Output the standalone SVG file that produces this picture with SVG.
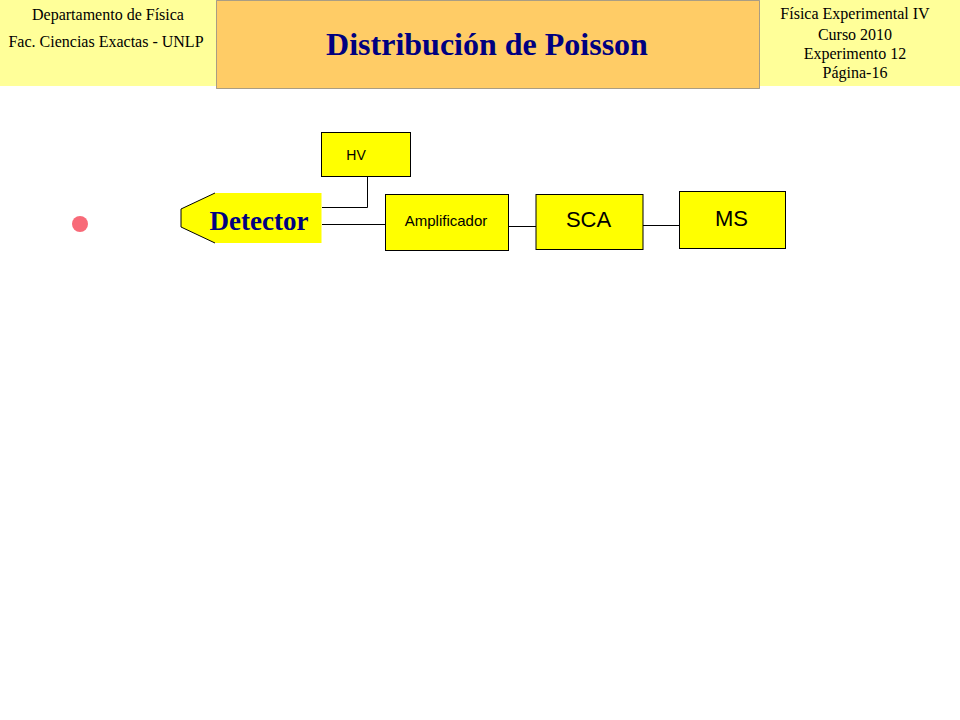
<svg xmlns="http://www.w3.org/2000/svg" width="960" height="720" viewBox="0 0 960 720">
<style>
.hdr{font-family:"Liberation Serif","Times New Roman",serif;font-size:16px;fill:#000;text-anchor:middle}
.box{fill:#FFFF00;stroke:#000;stroke-width:1}
.lbl{font-family:"Liberation Sans",Arial,sans-serif;fill:#000;text-anchor:middle}
.wire{fill:none;stroke:#000;stroke-width:1}
</style>
<rect width="960" height="720" fill="#fff"/>
<g id="header">
<rect x="0" y="0" width="216" height="86" fill="#FFFF99"/>
<rect x="760" y="0" width="200" height="86" fill="#FFFF99"/>
<rect x="216.5" y="0.5" width="543" height="88" fill="#FFCC66" stroke="#555" stroke-width="1" stroke-dasharray="1,1"/>
<text class="hdr" x="108" y="20">Departamento de Física</text>
<text class="hdr" x="106" y="47">Fac. Ciencias Exactas - UNLP</text>
<text class="hdr" x="855" y="19">Física Experimental IV</text>
<text class="hdr" x="855" y="40">Curso 2010</text>
<text class="hdr" x="855" y="59">Experimento 12</text>
<text class="hdr" x="855" y="78">Página-16</text>
<text x="487" y="55" font-family="'Liberation Serif','Times New Roman',serif" font-size="32" font-weight="bold" fill="#000080" text-anchor="middle">Distribución de Poisson</text>
</g>
<circle id="bullet" cx="80" cy="224" r="8" fill="#F86A78"/>
<g id="connectors">
<polyline class="wire" points="367.5,176 367.5,207.5 322,207.5"/>
<line class="wire" x1="322" y1="224.5" x2="385" y2="224.5"/>
<line class="wire" x1="508" y1="226.5" x2="536" y2="226.5"/>
<line class="wire" x1="643" y1="225.5" x2="679" y2="225.5"/>
</g>
<g id="detector">
<polygon points="215,193 321.5,193 321.5,243 215,243 181,227 181,209" fill="#FFFF00"/>
<polyline points="215,193 181,209 181,227 215,243" fill="none" stroke="#000" stroke-width="1"/>
<text x="259" y="230" font-family="'Liberation Serif','Times New Roman',serif" font-size="27" font-weight="bold" fill="#000080" text-anchor="middle">Detector</text>
</g>
<g id="hv">
<rect class="box" x="321.5" y="132.5" width="89" height="44"/>
<text class="lbl" x="356" y="160" font-size="14">HV</text>
</g>
<g id="amplificador">
<rect class="box" x="385.5" y="194.5" width="123" height="56"/>
<text class="lbl" x="446" y="226" font-size="15">Amplificador</text>
</g>
<g id="sca">
<rect class="box" x="536" y="194.5" width="107" height="55"/>
<text class="lbl" x="588.5" y="227" font-size="22">SCA</text>
</g>
<g id="ms">
<rect class="box" x="679.5" y="191.5" width="106" height="57"/>
<text class="lbl" x="731.5" y="226" font-size="22">MS</text>
</g>
</svg>
